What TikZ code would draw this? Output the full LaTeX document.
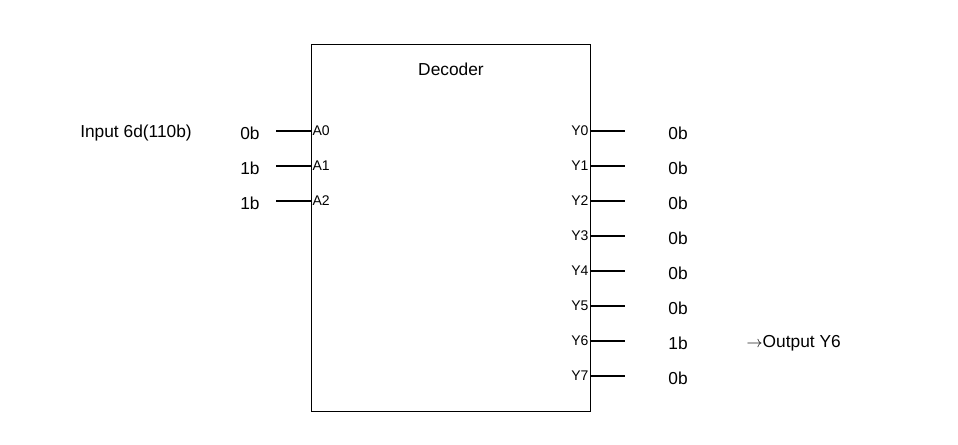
\documentclass[tikz,border=0pt]{standalone}
\usepackage{fontspec}
\setmainfont{Liberation Sans}
\usetikzlibrary{positioning}
\tikzset{
  pin/.style={font=\fontsize{10.5}{12}\selectfont, inner sep=1pt},
  val/.style={font=\fontsize{13}{15}\selectfont},
}
\begin{document}
\begin{tikzpicture}[x=0.75pt,y=-0.75pt]
        \useasboundingbox (0,0) rectangle (958,445);
        \node[draw, thick, minimum width=279*0.75pt, minimum height=367*0.75pt,
              anchor=north west, inner sep=0pt] (dec) at (311,44) {};
        \node[val] (title) at (451,69) {Decoder};

        \node[val] (input) at (136,133) {Input 6d(110b)};
        \foreach \i/\v in {0/0b,1/1b,2/1b} {
            \coordinate (a\i) at (311,131+35*\i);
            \coordinate (ae\i) at (276,131+35*\i);
            \draw[thick] (ae\i) -- (a\i);
            \node[pin, anchor=west] (al\i) at (a\i) {A\i};
            \node[val] (av\i) at (250,133+35*\i) {\v};
        }

        \foreach \i/\v in {0/0b,1/0b,2/0b,3/0b,4/0b,5/0b,6/1b,7/0b} {
            \coordinate (y\i) at (590,131+35*\i);
            \coordinate (ye\i) at (625,131+35*\i);
            \draw[thick] (y\i) -- (ye\i);
            \node[pin, anchor=east] (yl\i) at (y\i) {Y\i};
            \node[val] (yv\i) at (678,133+35*\i) {\v};
        }
        \node[val, anchor=west] (output) at (742,343) {$\rightarrow$Output Y6};
\end{tikzpicture}
\end{document}
